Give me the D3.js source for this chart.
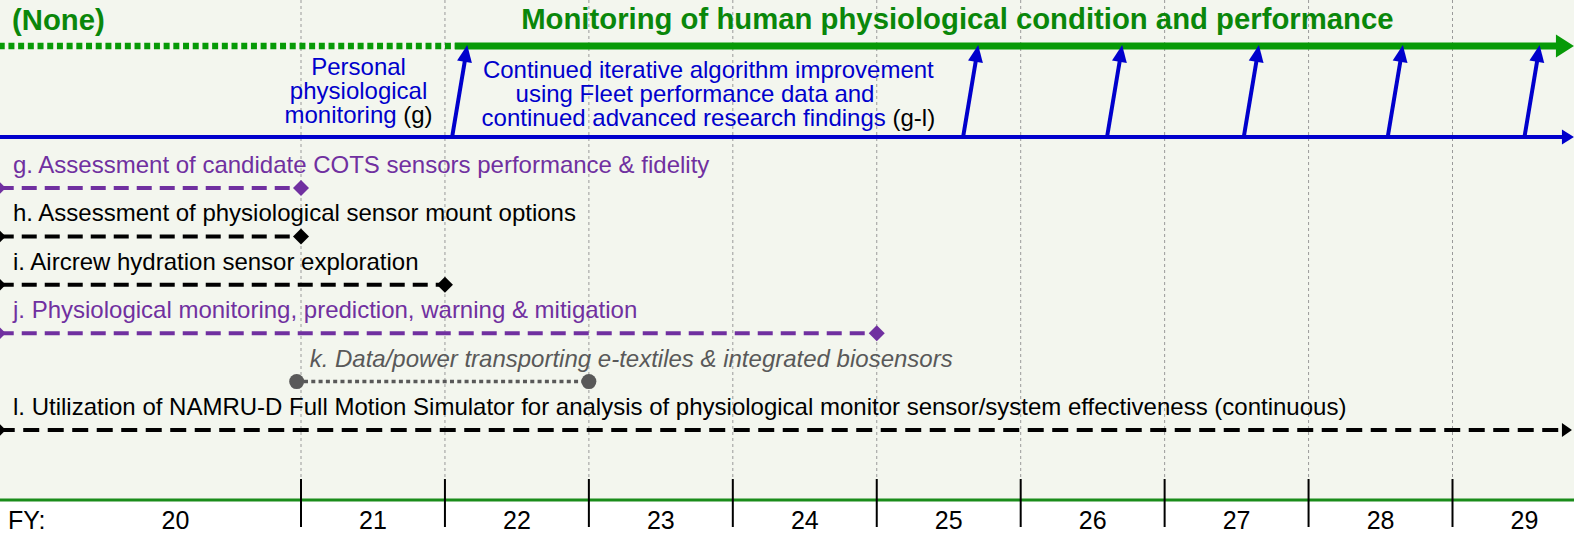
<!DOCTYPE html>
<html>
<head>
<meta charset="utf-8">
<script src="https://cdn.jsdelivr.net/npm/d3@7"></script>
<style>
  html, body { margin: 0; padding: 0; background: #ffffff; }
  svg { display: block; font-family: "Liberation Sans", Arial, sans-serif; }
</style>
</head>
<body>
<svg id="roadmap" width="1574" height="536"></svg>
<script>
const fyLabels = ["20", "21", "22", "23", "24", "25", "26", "27", "28", "29"];
const fyBounds = [21, 22, 23, 24, 25, 26, 27, 28, 29];

const phaseTitles = ["(None)", "Monitoring of human physiological condition and performance"];
const phaseStart = 18.9;        // left edge of the chart
const transitionYear = 22.07;   // dotted -> solid green
const phaseEnd = 29.83;         // arrow tips at right edge

// blue "algorithm improvement" hand-offs into the green capability line
const handoffYears = [22.05, 25.6, 26.6, 27.55, 28.55, 29.5];
const handoffLean = 0.105;

const note1Lines = ["Personal", "physiological", "monitoring"];
const note1Ref = "(g)";
const note1Year = 21.4;
const note2Lines = ["Continued iterative algorithm improvement", "using Fleet performance data and    ", "continued advanced research findings"];
const note2Ref = "(g-l)";
const note2Year = 23.83;
const titleYear = 25.56;

const taskIds = ["g", "h", "i", "j", "k", "l"];
const taskLabels = [
    "g. Assessment of candidate COTS sensors performance & fidelity",
    "h. Assessment of physiological sensor mount options",
    "i. Aircrew hydration sensor exploration",
    "j. Physiological monitoring, prediction, warning & mitigation",
    "k. Data/power transporting e-textiles & integrated biosensors",
    "l. Utilization of NAMRU-D Full Motion Simulator for analysis of physiological monitor sensor/system effectiveness (continuous)"
];
const taskStarts = [18.9, 18.9, 18.9, 18.9, 20.97, 18.9];
const taskEnds = [21.0, 21.0, 22.0, 25.0, 23.0, 29.83];

// --- Styles ---
const taskColors = ["#7030a0", "#000000", "#000000", "#7030a0", "#595959", "#000000"];
const taskDash = ["15,8", "15,8", "15,8", "15,8", "4,3.3", "16,8.5"];
const taskMarker = ["diamond", "diamond", "diamond", "diamond", "circle", "arrow"];
const GREEN_TEXT = "#0a870a";
const GREEN_LINE = "#079a07";
const BLUE = "#0000cc";

// --- Layout ---
const width = 1574;
const height = 536;
const axisY = 500;
const greenY = 46;
const blueY = 137;

const svg = d3.select("#roadmap");
const x = d3.scaleLinear().domain([21, 29]).range([301, 1452.5]);
const laneY = d3.scalePoint().domain(taskIds).range([188, 430]);

// arrow head triangle pointing at (x2, y2)
function headPoints(x1, y1, x2, y2, len, w) {
    const a = Math.atan2(y2 - y1, x2 - x1);
    const bx = x2 - len * Math.cos(a), by = y2 - len * Math.sin(a);
    const px = -Math.sin(a) * w / 2, py = Math.cos(a) * w / 2;
    return [[x2, y2], [bx + px, by + py], [bx - px, by - py]].map(p => p.join(",")).join(" ");
}

// --- Background ---
svg.append("rect").attr("x", 0).attr("y", 0).attr("width", width).attr("height", height).attr("fill", "#ffffff");
svg.append("rect").attr("x", 0).attr("y", 0).attr("width", width).attr("height", axisY).attr("fill", "#f3f6ee");

// --- Year gridlines ---
svg.selectAll("line.grid")
    .data(fyBounds)
    .enter()
    .append("line")
    .attr("class", "grid")
    .attr("x1", d => x(d)).attr("x2", d => x(d))
    .attr("y1", 0).attr("y2", 480)
    .attr("stroke", "#9a9a9a")
    .attr("stroke-width", 1)
    .attr("stroke-dasharray", "3,3");

// --- Green capability lane ---
svg.append("text")
    .attr("x", 12).attr("y", 30)
    .attr("font-size", 29.3).attr("font-weight", "bold")
    .attr("fill", GREEN_TEXT)
    .text(phaseTitles[0]);

svg.append("text")
    .attr("x", x(titleYear)).attr("y", 29)
    .attr("text-anchor", "middle")
    .attr("font-size", 29.3).attr("font-weight", "bold")
    .attr("fill", GREEN_TEXT)
    .text(phaseTitles[1]);

svg.append("line")
    .attr("x1", x(phaseStart)).attr("x2", x(transitionYear))
    .attr("y1", greenY).attr("y2", greenY)
    .attr("stroke", GREEN_LINE).attr("stroke-width", 6.5)
    .attr("stroke-dasharray", "6,3.7");

svg.append("line")
    .attr("x1", x(transitionYear)).attr("x2", x(phaseEnd) - 14)
    .attr("y1", greenY).attr("y2", greenY)
    .attr("stroke", GREEN_LINE).attr("stroke-width", 7);

svg.append("polygon")
    .attr("points", headPoints(0, greenY, x(phaseEnd) + 2, greenY, 18, 23))
    .attr("fill", GREEN_LINE);

// --- Blue algorithm lane ---
svg.append("line")
    .attr("x1", x(phaseStart)).attr("x2", x(phaseEnd) - 8)
    .attr("y1", blueY).attr("y2", blueY)
    .attr("stroke", BLUE).attr("stroke-width", 4);

svg.append("polygon")
    .attr("points", headPoints(0, blueY, x(phaseEnd) + 2, blueY, 12, 15))
    .attr("fill", BLUE);

const handoffs = svg.selectAll("g.handoff")
    .data(handoffYears)
    .enter()
    .append("g")
    .attr("class", "handoff");

handoffs.append("line")
    .attr("x1", d => x(d)).attr("y1", blueY)
    .attr("x2", d => x(d + handoffLean * 0.85)).attr("y2", greenY + 14)
    .attr("stroke", BLUE).attr("stroke-width", 4);

handoffs.append("polygon")
    .attr("points", d => headPoints(x(d), blueY, x(d + handoffLean), greenY - 1, 17, 15))
    .attr("fill", BLUE);

// notes above the blue lane
function drawNote(lines, ref, year, firstBaseline) {
    const t = svg.append("text")
        .attr("text-anchor", "middle")
        .attr("font-size", 24)
        .attr("fill", BLUE)
        .style("white-space", "pre");
    lines.forEach((line, i) => {
        const span = t.append("tspan")
            .attr("x", x(year))
            .attr("y", firstBaseline + i * 24)
            .text(line);
        if (i === lines.length - 1) {
            span.append("tspan").attr("fill", "#000000").text(" " + ref);
        }
    });
}
drawNote(note1Lines, note1Ref, note1Year, 75);
drawNote(note2Lines, note2Ref, note2Year, 78);

// --- Task lines g..l ---
const tasks = taskIds.map((id, i) => ({
    id: id,
    label: taskLabels[i],
    start: taskStarts[i],
    end: taskEnds[i],
    color: taskColors[i],
    dash: taskDash[i],
    marker: taskMarker[i]
}));

const rows = svg.selectAll("g.task")
    .data(tasks)
    .enter()
    .append("g")
    .attr("class", "task");

rows.append("line")
    .attr("x1", d => x(d.start))
    .attr("x2", d => d.marker === "arrow" ? x(d.end) - 8 : x(d.end))
    .attr("y1", d => laneY(d.id)).attr("y2", d => laneY(d.id))
    .attr("stroke", d => d.color)
    .attr("stroke-width", d => d.marker === "circle" ? 3.5 : 4)
    .attr("stroke-dasharray", d => d.dash);

// diamonds at both ends
rows.filter(d => d.marker !== "circle")
    .append("path")
    .attr("d", d => `M${x(d.start) - 7},${laneY(d.id)} l7,-7 l7,7 l-7,7 z`)
    .attr("fill", d => d.color);

rows.filter(d => d.marker === "diamond")
    .append("path")
    .attr("d", d => `M${x(d.end) - 8},${laneY(d.id)} l8,-8 l8,8 l-8,8 z`)
    .attr("fill", d => d.color);

rows.filter(d => d.marker === "circle")
    .selectAll("circle")
    .data(d => [d.start, d.end].map(v => ({ v: v, id: d.id, color: d.color })))
    .enter()
    .append("circle")
    .attr("cx", d => x(d.v))
    .attr("cy", d => laneY(d.id))
    .attr("r", 7.5)
    .attr("fill", d => d.color);

rows.filter(d => d.marker === "arrow")
    .append("polygon")
    .attr("points", d => headPoints(0, laneY(d.id), x(d.end), laneY(d.id), 10, 14))
    .attr("fill", d => d.color);

rows.append("text")
    .attr("x", d => Math.max(x(d.start), 0) + 13)
    .attr("y", d => laneY(d.id) - 15)
    .attr("font-size", 24)
    .attr("font-style", d => d.marker === "circle" ? "italic" : "normal")
    .attr("fill", d => d.color)
    .text(d => d.label);

// --- FY axis ---
svg.append("line")
    .attr("x1", 0).attr("x2", width)
    .attr("y1", axisY).attr("y2", axisY)
    .attr("stroke", "#1a8c1a").attr("stroke-width", 3);

svg.selectAll("line.tick")
    .data(fyBounds)
    .enter()
    .append("line")
    .attr("class", "tick")
    .attr("x1", d => x(d)).attr("x2", d => x(d))
    .attr("y1", 479).attr("y2", 527)
    .attr("stroke", "#000000").attr("stroke-width", 2);

svg.append("text")
    .attr("x", 8).attr("y", 529)
    .attr("font-size", 25)
    .attr("fill", "#000000")
    .text("FY:");

svg.selectAll("text.fy")
    .data(fyLabels)
    .enter()
    .append("text")
    .attr("class", "fy")
    .attr("x", (d, i) => i === 0 ? (50 + x(21)) / 2 : (x(+d) + x(+d + 1)) / 2)
    .attr("y", 529)
    .attr("text-anchor", "middle")
    .attr("font-size", 25)
    .attr("fill", "#000000")
    .text(d => d);
</script>
</body>
</html>
